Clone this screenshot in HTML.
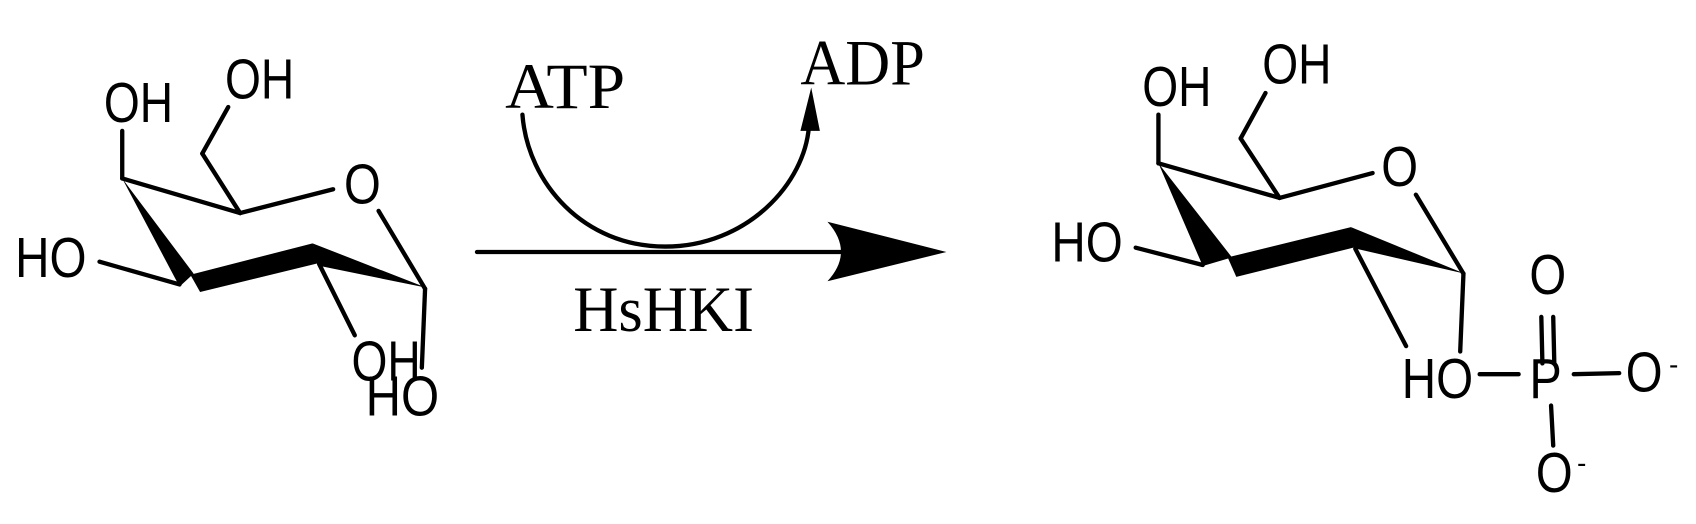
<!DOCTYPE html>
<html><head><meta charset="utf-8"><style>
html,body{margin:0;padding:0;background:#fff;}
svg{display:block;}
.s{font-family:"Liberation Sans",sans-serif;font-size:52px;fill:#000;}
.r{font-family:"Liberation Serif",serif;font-size:60px;fill:#000;}
line,path.l{stroke:#000;stroke-width:4;fill:none;stroke-linecap:round;}
</style></head><body>
<svg width="1696" height="524" viewBox="0 0 1568 484.5" preserveAspectRatio="none" xmlns="http://www.w3.org/2000/svg">
<!-- left molecule -->
<text class="s" x="96" y="113" textLength="64" lengthAdjust="spacingAndGlyphs">OH</text>
<text class="s" x="208" y="91" textLength="64" lengthAdjust="spacingAndGlyphs">OH</text>
<text class="s" x="318" y="188" textLength="34" lengthAdjust="spacingAndGlyphs">O</text>
<text class="s" x="14" y="256" textLength="66" lengthAdjust="spacingAndGlyphs">HO</text>
<text class="s" x="325" y="352" textLength="64" lengthAdjust="spacingAndGlyphs">OH</text>
<text class="s" x="338" y="384" textLength="68" lengthAdjust="spacingAndGlyphs">HO</text>
<line x1="113" y1="121" x2="113" y2="165"/>
<line x1="113" y1="165" x2="222" y2="197"/>
<line x1="222" y1="197" x2="187" y2="142"/>
<line x1="187" y1="142" x2="211" y2="99"/>
<line x1="222" y1="197" x2="308" y2="175"/>
<line x1="350" y1="195" x2="393" y2="267"/>
<line x1="92" y1="242" x2="166" y2="263"/>
<line x1="295" y1="244" x2="328" y2="310"/>
<line x1="393" y1="267" x2="390" y2="340"/>
<polygon points="113,165 179,253 166,265"/>
<polygon points="176,254 289,225 296,243 185,270"/>
<polygon points="289,225 394,266 296,246"/>
<!-- arrow -->
<line x1="441" y1="233" x2="780" y2="233" style="stroke-width:4"/>
<path d="M765,205 L875,233 L765,260 Q790,233 765,205Z" fill="#000"/>
<path class="l" d="M483,106 C488,170 540,228 615,228 C690,228 745,170 748,115"/>
<polygon points="740,121 750,81 758,121"/>
<text class="r" x="467" y="100" textLength="111" lengthAdjust="spacingAndGlyphs">ATP</text>
<text class="r" x="740" y="78" textLength="115" lengthAdjust="spacingAndGlyphs">ADP</text>
<text class="r" x="530" y="306" textLength="167" lengthAdjust="spacingAndGlyphs">HsHKI</text>
<!-- right molecule -->
<text class="s" x="1056" y="98" textLength="64" lengthAdjust="spacingAndGlyphs">OH</text>
<text class="s" x="1167" y="77" textLength="64" lengthAdjust="spacingAndGlyphs">OH</text>
<text class="s" x="1277" y="172" textLength="34" lengthAdjust="spacingAndGlyphs">O</text>
<text class="s" x="972" y="242" textLength="66" lengthAdjust="spacingAndGlyphs">HO</text>
<text class="s" x="1296" y="368" textLength="66" lengthAdjust="spacingAndGlyphs">HO</text>
<text class="s" x="1414" y="368" textLength="30" lengthAdjust="spacingAndGlyphs">P</text>
<text class="s" x="1503" y="362" textLength="34" lengthAdjust="spacingAndGlyphs">O</text>
<text class="s" x="1543" y="346" style="font-size:26px">-</text>
<text class="s" x="1414" y="272" textLength="34" lengthAdjust="spacingAndGlyphs">O</text>
<text class="s" x="1420" y="455" textLength="34" lengthAdjust="spacingAndGlyphs">O</text>
<text class="s" x="1458" y="437" style="font-size:26px">-</text>
<line x1="1071" y1="106" x2="1071" y2="151"/>
<line x1="1071" y1="151" x2="1183" y2="183"/>
<line x1="1183" y1="183" x2="1147" y2="128"/>
<line x1="1147" y1="128" x2="1170" y2="86"/>
<line x1="1183" y1="183" x2="1269" y2="160"/>
<line x1="1309" y1="180" x2="1353" y2="253"/>
<line x1="1050" y1="229" x2="1112" y2="245"/>
<line x1="1253" y1="230" x2="1300" y2="320"/>
<line x1="1353" y1="253" x2="1350" y2="325"/>
<line x1="1368" y1="346" x2="1404" y2="346"/>
<line x1="1455" y1="346" x2="1497" y2="345"/>
<line x1="1425" y1="293" x2="1426" y2="336"/>
<line x1="1436" y1="293" x2="1437" y2="336"/>
<line x1="1434" y1="375" x2="1436" y2="412"/>
<polygon points="1071,151 1139,238 1112,246"/>
<polygon points="1135,238 1249,210 1255,228 1143,256"/>
<polygon points="1249,210 1354,253 1254,230"/>
</svg>
</body></html>
